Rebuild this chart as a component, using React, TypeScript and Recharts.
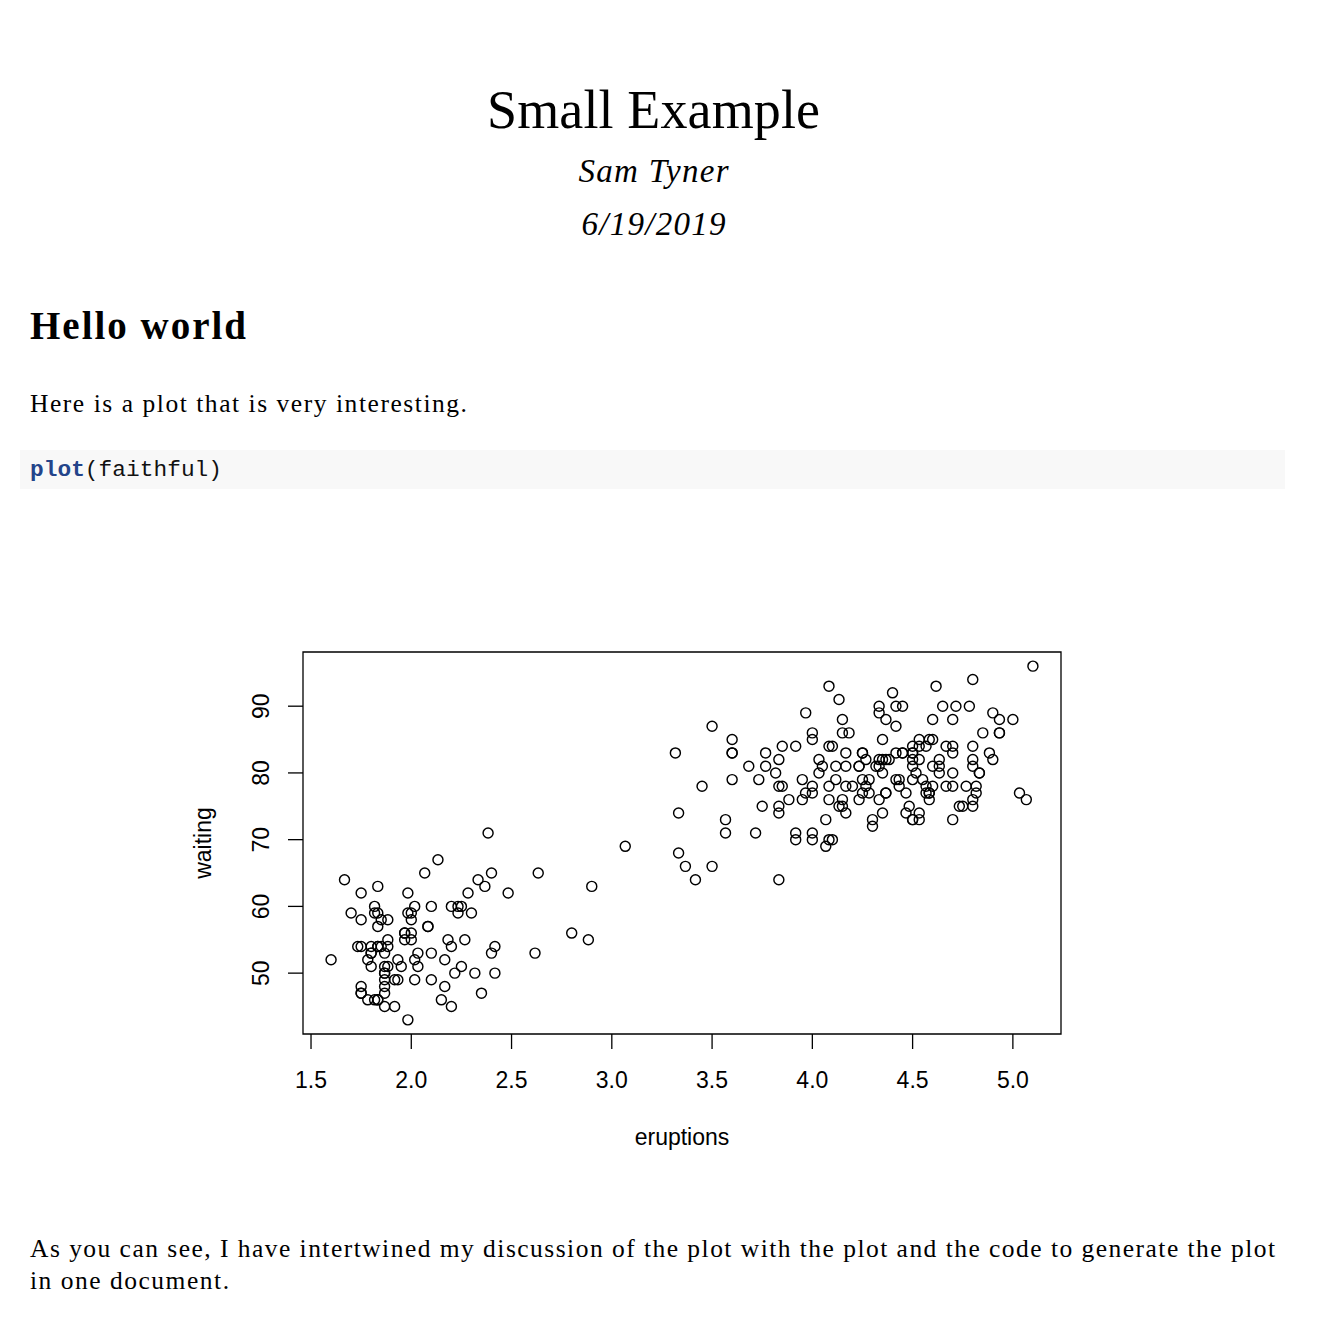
import React from "react"
import { ScatterChart, Scatter, XAxis, YAxis, ReferenceArea } from "recharts"

// Old Faithful eruptions (minutes) and waiting time (minutes)
const eruptions = [
  3.6, 1.8, 3.333, 2.283, 4.533, 2.883, 4.7, 3.6, 1.95, 4.35, 1.833, 3.917, 4.2, 1.75, 4.7, 2.167, 1.75, 4.8, 1.6, 4.25,
  1.8, 1.75, 3.45, 3.067, 4.533, 3.6, 1.967, 4.083, 3.85, 4.433, 4.3, 4.467, 3.367, 4.033, 3.833, 2.017, 1.867, 4.833, 1.833, 4.783,
  4.35, 1.883, 4.567, 1.75, 4.533, 3.317, 3.833, 2.1, 4.633, 2.0, 4.8, 4.716, 1.833, 4.833, 1.733, 4.883, 3.717, 1.667, 4.567, 4.317,
  2.233, 4.5, 1.75, 4.8, 1.817, 4.4, 4.167, 4.7, 2.067, 4.7, 4.033, 1.967, 4.5, 4.0, 1.983, 5.067, 2.017, 4.567, 3.883, 3.6,
  4.133, 4.333, 4.1, 2.633, 4.067, 4.933, 3.95, 4.517, 2.167, 4.0, 2.2, 4.333, 1.867, 4.817, 1.833, 4.3, 4.667, 3.75, 1.867, 4.9,
  2.483, 4.367, 2.1, 4.5, 4.05, 1.867, 4.7, 1.783, 4.85, 3.683, 4.733, 2.3, 4.9, 4.417, 1.7, 4.633, 2.317, 4.6, 1.817, 4.417,
  2.617, 4.067, 4.25, 1.967, 4.6, 3.767, 1.917, 4.5, 2.267, 4.65, 1.867, 4.167, 2.8, 4.333, 1.833, 4.383, 1.883, 4.933, 2.033, 3.733,
  4.233, 2.233, 4.533, 4.817, 4.333, 1.983, 4.633, 2.017, 5.1, 1.8, 5.033, 4.0, 2.4, 4.6, 3.567, 4.0, 4.5, 4.083, 1.8, 3.967,
  2.2, 4.15, 2.0, 3.833, 3.5, 4.583, 2.367, 5.0, 1.933, 4.617, 1.917, 2.083, 4.583, 3.333, 4.167, 4.333, 4.5, 2.417, 4.0, 4.167,
  1.883, 4.583, 4.25, 3.767, 2.033, 4.433, 4.083, 1.833, 4.417, 2.183, 4.8, 1.833, 4.8, 4.1, 3.966, 4.233, 3.5, 4.366, 2.25, 4.667,
  2.1, 4.35, 4.133, 1.867, 4.6, 1.783, 4.367, 3.85, 1.933, 4.5, 2.383, 4.7, 1.867, 3.833, 3.417, 4.233, 2.4, 4.8, 2.0, 4.15,
  1.867, 4.267, 1.75, 4.483, 4.0, 4.117, 4.083, 4.267, 3.917, 4.55, 4.083, 2.417, 4.183, 2.217, 4.45, 1.883, 1.85, 4.283, 3.95, 2.333,
  4.15, 2.35, 4.933, 2.9, 4.583, 3.833, 2.083, 4.367, 2.133, 4.35, 2.2, 4.45, 3.567, 4.5, 4.15, 3.817, 3.917, 4.45, 2.0, 4.283,
  4.767, 4.533, 1.85, 4.25, 1.983, 2.25, 4.75, 4.117, 2.15, 4.417, 1.817, 4.467,
]
const waiting = [
  79, 54, 74, 62, 85, 55, 88, 85, 51, 85, 54, 84, 78, 47, 83, 52, 62, 84, 52, 79,
  51, 47, 78, 69, 74, 83, 55, 76, 78, 79, 73, 77, 66, 80, 74, 52, 48, 80, 59, 90,
  80, 58, 84, 58, 73, 83, 64, 53, 82, 59, 75, 90, 54, 80, 54, 83, 71, 64, 77, 81,
  59, 84, 48, 82, 60, 92, 78, 78, 65, 73, 82, 56, 79, 71, 62, 76, 60, 78, 76, 83,
  75, 82, 70, 65, 73, 88, 76, 80, 48, 86, 60, 90, 50, 78, 63, 72, 84, 75, 51, 82,
  62, 88, 49, 83, 81, 47, 84, 52, 86, 81, 75, 59, 89, 79, 59, 81, 50, 85, 59, 87,
  53, 69, 77, 56, 88, 81, 45, 82, 55, 90, 45, 83, 56, 89, 46, 82, 51, 86, 53, 79,
  81, 60, 82, 77, 76, 59, 80, 49, 96, 53, 77, 77, 65, 81, 71, 70, 81, 93, 53, 89,
  45, 86, 58, 78, 66, 76, 63, 88, 52, 93, 49, 57, 77, 68, 81, 81, 73, 50, 85, 74,
  55, 77, 83, 83, 51, 78, 84, 46, 83, 55, 81, 57, 76, 84, 77, 81, 87, 77, 51, 78,
  60, 82, 91, 53, 78, 46, 77, 84, 49, 83, 71, 80, 49, 75, 64, 76, 53, 94, 55, 76,
  50, 82, 54, 75, 78, 79, 78, 78, 70, 79, 70, 54, 86, 50, 90, 54, 54, 77, 79, 64,
  75, 47, 86, 63, 85, 82, 57, 82, 67, 74, 54, 83, 73, 73, 88, 80, 71, 83, 56, 79,
  78, 84, 58, 83, 43, 60, 75, 81, 46, 90, 46, 74,
]
const xTicks = [1.5, 2.0, 2.5, 3.0, 3.5, 4.0, 4.5, 5.0]
const yTicks = [50, 60, 70, 80, 90]

// R pads the data range by 4% on each side
const xDomain = [1.46, 5.24]
const yDomain = [40.88, 98.12]

const points = eruptions.map((e, i) => ({ eruptions: e, waiting: waiting[i] }))

const sans = "'Liberation Sans', Arial, sans-serif"
const serif = "'Liberation Serif', 'Times New Roman', serif"
const mono = "'Liberation Mono', 'DejaVu Sans Mono', monospace"

const XTick = (props: any) => {
  const { x, y, payload } = props
  return (
    <text x={x} y={y} dy="0.71em" textAnchor="middle" fontFamily={sans} fontSize={23} fill="#000">
      {Number(payload.value).toFixed(1)}
    </text>
  )
}

const YTick = (props: any) => {
  const { x, y, payload } = props
  return (
    <text
      x={x}
      y={y}
      transform={`rotate(-90, ${x}, ${y})`}
      textAnchor="middle"
      fontFamily={sans}
      fontSize={23}
      fill="#000"
    >
      {payload.value}
    </text>
  )
}

const Ring = (props: any) => {
  const { cx, cy } = props
  return <circle cx={cx} cy={cy} r={5} fill="none" stroke="#000" strokeWidth={1.45} />
}

export default function App() {
  return (
    <div style={{ position: "absolute", left: 0, top: 0, width: 1317, height: 1325, background: "#fff" }}>
      <svg width={1317} height={1325} style={{ position: "absolute", left: 0, top: 0 }}>
        <text x={653.5} y={128} textAnchor="middle" fontFamily={serif} fontSize={54} textLength={333} lengthAdjust="spacing">
          Small Example
        </text>
        <text x={653.5} y={182} textAnchor="middle" fontFamily={serif} fontStyle="italic" fontSize={33} textLength={150} lengthAdjust="spacing">
          Sam Tyner
        </text>
        <text x={653.5} y={235} textAnchor="middle" fontFamily={serif} fontStyle="italic" fontSize={33} textLength={144} lengthAdjust="spacing">
          6/19/2019
        </text>
        <text x={30} y={339} fontFamily={serif} fontWeight="bold" fontSize={39} textLength={216} lengthAdjust="spacing">
          Hello world
        </text>
        <text x={30} y={412} fontFamily={serif} fontSize={25.5} textLength={437} lengthAdjust="spacing">
          Here is a plot that is very interesting.
        </text>
        <rect x={20} y={450} width={1265} height={39} fill="#f8f8f8" />
        <text x={30} y={476} fontFamily={mono} fontSize={22.8} textLength={192} lengthAdjust="spacing">
          <tspan fill="#23448a" fontWeight="bold">plot</tspan>
          <tspan fill="#111">(faithful)</tspan>
        </text>
        <text x={682} y={1145} textAnchor="middle" fontFamily={sans} fontSize={23}>
          eruptions
        </text>
        <text x={211} y={843} transform="rotate(-90, 211, 843)" textAnchor="middle" fontFamily={sans} fontSize={23}>
          waiting
        </text>
        <text x={30} y={1257} fontFamily={serif} fontSize={25.5} textLength={1245} lengthAdjust="spacing">
          As you can see, I have intertwined my discussion of the plot with the plot and the code to generate the plot
        </text>
        <text x={30} y={1289} fontFamily={serif} fontSize={25.5} textLength={199} lengthAdjust="spacing">
          in one document.
        </text>
      </svg>
      <div style={{ position: "absolute", left: 150, top: 630 }}>
        <ScatterChart width={930} height={540} margin={{ top: 22, right: 19, left: 0, bottom: 0 }}>
          <XAxis
            type="number"
            dataKey="eruptions"
            domain={xDomain}
            allowDataOverflow
            ticks={xTicks}
            interval={0}
            axisLine={false}
            tickLine={{ stroke: "#000", strokeWidth: 1.3 }}
            tickSize={15}
            tickMargin={23}
            height={136}
            tick={<XTick />}
          />
          <YAxis
            type="number"
            dataKey="waiting"
            domain={yDomain}
            allowDataOverflow
            ticks={yTicks}
            interval={0}
            axisLine={false}
            tickLine={{ stroke: "#000", strokeWidth: 1.3 }}
            tickSize={15}
            tickMargin={19}
            width={153}
            tick={<YTick />}
          />
          <ReferenceArea
            x1={xDomain[0]}
            x2={xDomain[1]}
            y1={yDomain[0]}
            y2={yDomain[1]}
            fill="none"
            fillOpacity={0}
            stroke="#000"
            strokeWidth={1.3}
            ifOverflow="visible"
          />
          <Scatter data={points} shape={<Ring />} isAnimationActive={false} />
        </ScatterChart>
      </div>
    </div>
  )
}
